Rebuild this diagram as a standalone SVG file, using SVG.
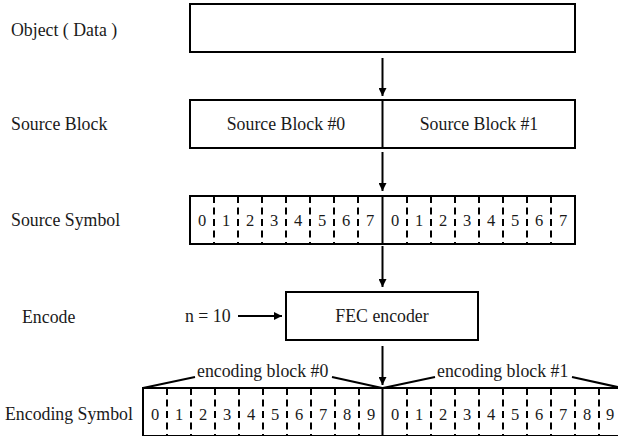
<svg xmlns="http://www.w3.org/2000/svg" width="618" height="436" viewBox="0 0 618 436">
  <defs>
    <marker id="arrow" markerWidth="8" markerHeight="8" refX="8" refY="4" orient="auto" markerUnits="userSpaceOnUse">
      <path d="M0,0 L8,4 L0,8 Z" fill="#000"/>
    </marker>
  </defs>
  <style>
    .box { fill: #fff; stroke: #000; stroke-width: 2; }
    .solid { stroke: #000; stroke-width: 2; fill: none; }
    .dash { stroke: #000; stroke-width: 2; stroke-dasharray: 7 4.5; fill: none; }
    .conn { stroke: #000; stroke-width: 2; fill: none; marker-end: url(#arrow); }
    .label { font-family: "Liberation Serif", "Times New Roman", serif; font-size: 17.8px; fill: #1a1a1a; }
    .mid { text-anchor: middle; }
    .digit { font-family: "Liberation Serif", "Times New Roman", serif; font-size: 16.5px; fill: #1a1a1a; text-anchor: middle; }
  </style>

  <rect width="618" height="436" fill="#fff"/>

  <!-- row labels -->
  <g id="row-labels">
    <text class="label" x="11" y="36">Object ( Data )</text>
    <text class="label" x="11" y="130">Source Block</text>
    <text class="label" x="11" y="226">Source Symbol</text>
    <text class="label" x="22" y="323">Encode</text>
    <text class="label" x="5" y="420">Encoding Symbol</text>
  </g>

  <!-- object -->
  <g id="object">
    <rect class="box" x="190" y="4" width="385" height="48"/>
  </g>

  <!-- source blocks -->
  <g id="source-blocks">
    <rect class="box" x="190" y="100" width="385" height="48"/>
    <line class="solid" x1="382.5" y1="100" x2="382.5" y2="148"/>
    <text class="label mid" x="286" y="130">Source Block #0</text>
    <text class="label mid" x="479" y="130">Source Block #1</text>
  </g>

  <!-- source symbols: 2 x 8 cells of width 24 -->
  <g id="source-symbols">
    <rect class="box" x="190" y="196" width="385" height="48"/>
    <line class="dash" x1="214" y1="196" x2="214" y2="244"/>
    <line class="dash" x1="238" y1="196" x2="238" y2="244"/>
    <line class="dash" x1="262" y1="196" x2="262" y2="244"/>
    <line class="dash" x1="286" y1="196" x2="286" y2="244"/>
    <line class="dash" x1="310" y1="196" x2="310" y2="244"/>
    <line class="dash" x1="334" y1="196" x2="334" y2="244"/>
    <line class="dash" x1="358" y1="196" x2="358" y2="244"/>
    <line class="dash" x1="407" y1="196" x2="407" y2="244"/>
    <line class="dash" x1="431" y1="196" x2="431" y2="244"/>
    <line class="dash" x1="455" y1="196" x2="455" y2="244"/>
    <line class="dash" x1="479" y1="196" x2="479" y2="244"/>
    <line class="dash" x1="503" y1="196" x2="503" y2="244"/>
    <line class="dash" x1="527" y1="196" x2="527" y2="244"/>
    <line class="dash" x1="551" y1="196" x2="551" y2="244"/>
    <line class="solid" x1="382.5" y1="196" x2="382.5" y2="244"/>
    <text class="digit" x="202" y="226">0</text>
    <text class="digit" x="226" y="226">1</text>
    <text class="digit" x="250" y="226">2</text>
    <text class="digit" x="274" y="226">3</text>
    <text class="digit" x="298" y="226">4</text>
    <text class="digit" x="322" y="226">5</text>
    <text class="digit" x="346" y="226">6</text>
    <text class="digit" x="370" y="226">7</text>
    <text class="digit" x="395" y="226">0</text>
    <text class="digit" x="419" y="226">1</text>
    <text class="digit" x="443" y="226">2</text>
    <text class="digit" x="467" y="226">3</text>
    <text class="digit" x="491" y="226">4</text>
    <text class="digit" x="515" y="226">5</text>
    <text class="digit" x="539" y="226">6</text>
    <text class="digit" x="563" y="226">7</text>
  </g>

  <!-- FEC encoder -->
  <g id="fec-encoder">
    <rect class="box" x="286" y="292" width="192" height="48"/>
    <text class="label mid" x="382" y="322">FEC encoder</text>
  </g>

  <g id="param-n">
    <text class="label" x="185" y="322">n = 10</text>
  </g>

  <!-- encoding symbols: 2 x 10 cells of width 24 -->
  <g id="encoding-symbols">
    <rect class="box" x="143" y="388" width="481" height="48"/>
    <line class="dash" x1="167" y1="388" x2="167" y2="436"/>
    <line class="dash" x1="191" y1="388" x2="191" y2="436"/>
    <line class="dash" x1="215" y1="388" x2="215" y2="436"/>
    <line class="dash" x1="239" y1="388" x2="239" y2="436"/>
    <line class="dash" x1="263" y1="388" x2="263" y2="436"/>
    <line class="dash" x1="287" y1="388" x2="287" y2="436"/>
    <line class="dash" x1="311" y1="388" x2="311" y2="436"/>
    <line class="dash" x1="335" y1="388" x2="335" y2="436"/>
    <line class="dash" x1="359" y1="388" x2="359" y2="436"/>
    <line class="dash" x1="407" y1="388" x2="407" y2="436"/>
    <line class="dash" x1="431" y1="388" x2="431" y2="436"/>
    <line class="dash" x1="455" y1="388" x2="455" y2="436"/>
    <line class="dash" x1="479" y1="388" x2="479" y2="436"/>
    <line class="dash" x1="503" y1="388" x2="503" y2="436"/>
    <line class="dash" x1="527" y1="388" x2="527" y2="436"/>
    <line class="dash" x1="551" y1="388" x2="551" y2="436"/>
    <line class="dash" x1="575" y1="388" x2="575" y2="436"/>
    <line class="dash" x1="599" y1="388" x2="599" y2="436"/>
    <line class="solid" x1="382.5" y1="388" x2="382.5" y2="436"/>
    <text class="digit" x="155" y="420">0</text>
    <text class="digit" x="179" y="420">1</text>
    <text class="digit" x="203" y="420">2</text>
    <text class="digit" x="227" y="420">3</text>
    <text class="digit" x="251" y="420">4</text>
    <text class="digit" x="275" y="420">5</text>
    <text class="digit" x="299" y="420">6</text>
    <text class="digit" x="323" y="420">7</text>
    <text class="digit" x="347" y="420">8</text>
    <text class="digit" x="371" y="420">9</text>
    <text class="digit" x="395" y="420">0</text>
    <text class="digit" x="419" y="420">1</text>
    <text class="digit" x="443" y="420">2</text>
    <text class="digit" x="467" y="420">3</text>
    <text class="digit" x="491" y="420">4</text>
    <text class="digit" x="515" y="420">5</text>
    <text class="digit" x="539" y="420">6</text>
    <text class="digit" x="563" y="420">7</text>
    <text class="digit" x="587" y="420">8</text>
    <text class="digit" x="610" y="420">9</text>
  </g>

  <!-- encoding block brackets -->
  <g id="encoding-block-0">
    <polyline class="solid" points="143,388 195,377"/>
    <polyline class="solid" points="332,377 382,388"/>
    <text class="label" x="197" y="377">encoding block #0</text>
  </g>
  <g id="encoding-block-1">
    <polyline class="solid" points="383,388 435,377"/>
    <polyline class="solid" points="572,377 622,388"/>
    <text class="label" x="437" y="377">encoding block #1</text>
  </g>

  <!-- connectors -->
  <g id="connectors">
    <line class="conn" x1="382.5" y1="58" x2="382.5" y2="96"/>
    <line class="conn" x1="382.5" y1="152" x2="382.5" y2="191"/>
    <line class="conn" x1="382.5" y1="246" x2="382.5" y2="287"/>
    <line class="conn" x1="382.5" y1="346" x2="382.5" y2="385"/>
    <line class="conn" x1="238" y1="316" x2="282" y2="316"/>
  </g>
</svg>
